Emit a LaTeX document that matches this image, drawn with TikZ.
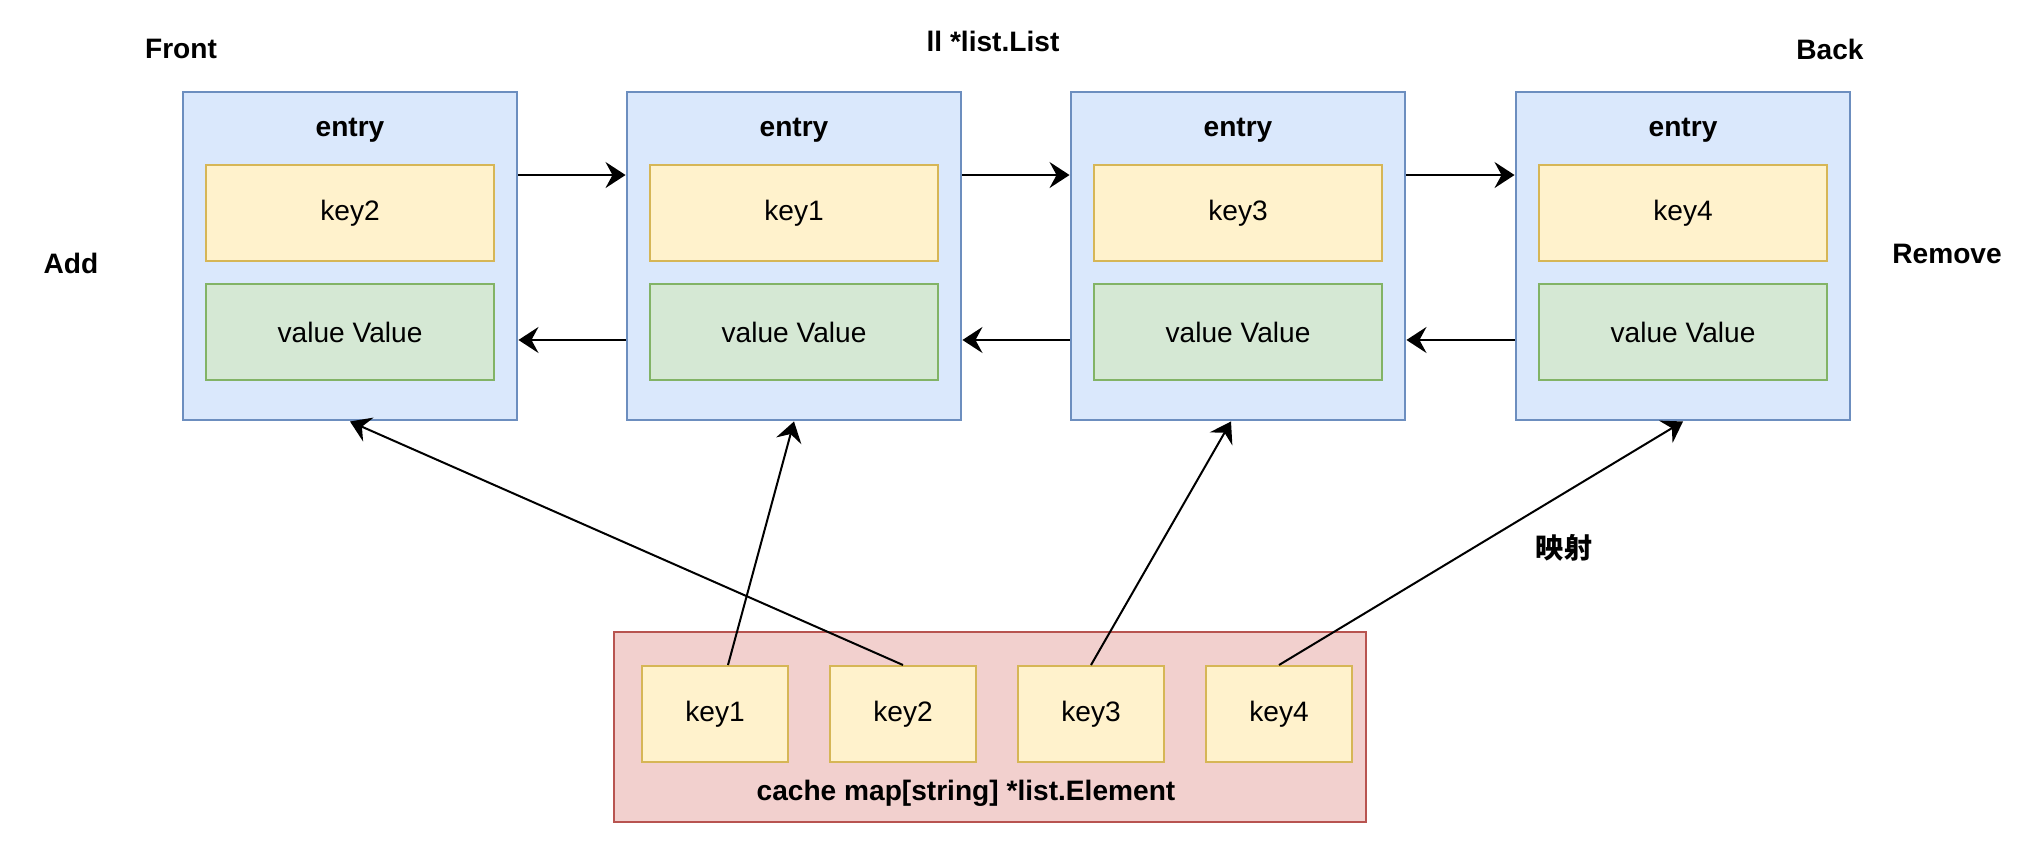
\documentclass[tikz,border=0pt]{standalone}
\usepackage{fontspec}
\setmainfont{Liberation Sans}
\newfontfamily\cjkfont{Noto Sans CJK SC}
\usepackage{xcolor}
\usepackage{tikz}
\usetikzlibrary{arrows.meta}
\definecolor{entryfill}{HTML}{DAE8FC}
\definecolor{entryline}{HTML}{6C8EBF}
\definecolor{keyfill}{HTML}{FFF2CC}
\definecolor{keyline}{HTML}{D6B656}
\definecolor{valfill}{HTML}{D5E8D4}
\definecolor{valline}{HTML}{82B366}
\definecolor{cachefill}{HTML}{F2D0CE}
\definecolor{cacheline}{HTML}{B85450}

\tikzset{
  txt/.style={font=\fontsize{16}{19}\selectfont},
  entrybox/.style={draw=entryline, fill=entryfill, line width=0.04cm,
    minimum width=6.7cm, minimum height=6.58cm, inner sep=0pt},
  keybox/.style={txt, draw=keyline, fill=keyfill, line width=0.04cm,
    minimum width=5.78cm, minimum height=1.94cm, inner sep=0pt},
  valbox/.style={txt, draw=valline, fill=valfill, line width=0.04cm,
    minimum width=5.78cm, minimum height=1.94cm, inner sep=0pt},
  mapkey/.style={txt, draw=keyline, fill=keyfill, line width=0.04cm,
    minimum width=2.92cm, minimum height=1.92cm, inner sep=0pt},
  cachebox/.style={draw=cacheline, fill=cachefill, line width=0.04cm,
    minimum width=15.06cm, minimum height=3.8cm, inner sep=0pt},
  lbl/.style={font=\fontsize{16}{19}\selectfont\bfseries},
  link/.style={->, line width=0.04cm},
}

\begin{document}
\begin{tikzpicture}[x=0.02cm, y=-0.02cm, >={Stealth[length=4mm, width=5.2mm, inset=1.4mm]}]
    \useasboundingbox (0,0) rectangle (2032,842);

    % List entries
    \foreach \i/\cx/\k in {1/350/key2, 2/794/key1, 3/1238/key3, 4/1683/key4} {
        \node[entrybox] (e\i) at (\cx,256) {};
        \node[lbl] (t\i) at (\cx,130) {entry};
        \node[keybox] (k\i) at (\cx,213) {\k};
        \node[valbox] (v\i) at (\cx,332) {value Value};
    }

    % next / prev links
    \foreach \i/\j in {1/2, 2/3, 3/4} {
        \draw[link] ([yshift=1.62cm]e\i.east) -- ([yshift=1.62cm]e\j.west);
        \draw[link] ([yshift=-1.68cm]e\j.west) -- ([yshift=-1.68cm]e\i.east);
    }

    % Labels around the list
    \node[lbl] (front) at (181,49) {Front};
    \node[lbl] (title) at (993,41) {ll *list.List};
    \node[lbl] (back) at (1830,49) {Back};
    \node[lbl] (add) at (71,263) {Add};
    \node[lbl] (remove) at (1947,254) {Remove};

    % The map
    \node[cachebox] (cache) at (990,727) {};
    \foreach \i/\cx in {1/715, 2/903, 3/1091, 4/1279} {
        \node[mapkey] (m\i) at (\cx,714) {key\i};
    }
    \node[lbl] (cachelbl) at (966,793) {cache map[string] *list.Element};

    % Map to entries
    \draw[link] ([xshift=0.26cm]m1.north) -- (e2.south);
    \draw[link] (m2.north) -- (e1.south);
    \draw[link] (m3.north) -- ([xshift=-0.14cm]e3.south);
    \draw[link] (m4.north) -- (e4.south);
    \node[font=\fontsize{16}{19}\selectfont\cjkfont\bfseries] (maplbl) at (1564,548) {映射};
\end{tikzpicture}
\end{document}
